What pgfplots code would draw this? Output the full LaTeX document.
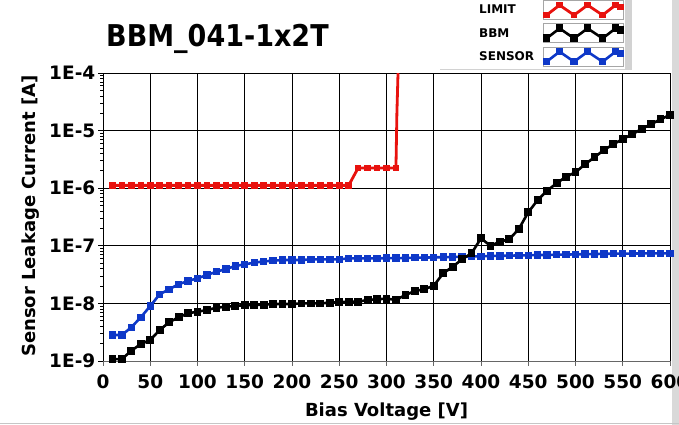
\documentclass[border=0pt]{standalone}
\usepackage{pgfplots}
\pgfplotsset{compat=1.18}
\usepackage{fontspec}
\setmainfont{DejaVu Sans}
\newfontfamily\titlefont{DejaVu Sans Condensed Bold}
\definecolor{limred}{RGB}{232,18,14}
\definecolor{senblue}{RGB}{14,56,200}
\definecolor{bbmblack}{RGB}{0,0,0}
\begin{document}
\begin{tikzpicture}
\path[use as bounding box] (0pt,0pt) rectangle (679pt,425pt);
\fill[gray!30] (672pt,0pt) rectangle (679pt,425pt);
\fill[gray!35] (625pt,355pt) rectangle (632pt,425pt);
\draw[gray!35, line width=1pt] (440pt,355pt) -- (632pt,355pt);
\draw[gray!45, line width=1.2pt] (0pt,1.5pt) -- (679pt,1.5pt);
\begin{axis}[
  at={(103pt,64pt)}, anchor=south west,
  scale only axis, width=567pt, height=288pt,
  xmin=0, xmax=600, ymin=1e-9, ymax=1e-4, ymode=log,
  xtick={0,50,100,150,200,250,300,350,400,450,500,550,600},
  xticklabels={0,50,100,150,200,250,300,350,400,450,500,550,600},
  ytick={1e-9,1e-8,1e-7,1e-6,1e-5,1e-4},
  yticklabels={1E-9,1E-8,1E-7,1E-6,1E-5,1E-4},
  axis lines=left, axis line style={-},
  x axis line style={gray!80!black, line width=1pt},
  y axis line style={black, line width=1pt},
  xtick style={gray!80!black, line width=0.8pt},
  ytick style={black, line width=0.8pt},
  tick align=outside, major tick length=5pt,
  grid=major, major grid style={black, line width=1pt},
  tick label style={font=\fontsize{18.5}{21}\selectfont\bfseries},
  yticklabel style={inner sep=1pt, xshift=-1.5pt},
  xticklabel style={inner sep=2pt, yshift=-6.5pt},
  xlabel={Bias Voltage [V]},
  ylabel={Sensor Leakage Current [A]},
  label style={font=\fontsize{18}{21}\selectfont\bfseries},
  xlabel style={at={(axis description cs:0.5,-0.193)}, anchor=base},
  ylabel style={at={(axis description cs:-0.127,0.503)}, anchor=center},
  clip=true,
  reverse legend,
  legend plot pos=right,
  legend cell align=left,
  legend style={at={(axis description cs:0.6596,1.2535)}, anchor=north west,
    draw=none, fill=none, inner sep=0pt, row sep=3.5pt, column sep=7pt,
    font=\fontsize{12}{14}\selectfont\bfseries},
  legend image code/.code={%
    \draw[gray!70, line width=0.8pt, fill=white] (0pt,-9.5pt) rectangle (80pt,9.5pt);
    \draw[#1] plot coordinates {(3pt,-5pt) (16pt,5pt) (30.5pt,-5pt) (44pt,5pt) (59pt,-5pt) (72pt,5pt) (77pt,3pt)};
  },
]
\addplot[senblue, line width=2.6pt, mark=square*, mark size=3.2pt, mark options={line width=0pt}] coordinates {
(10,2.83e-9) (20,2.83e-9) (30,3.85e-9) (40,5.74e-9) (50,9.0e-9) (60,1.44e-8) (70,1.76e-8) (80,2.15e-8) (90,2.45e-8) (100,2.73e-8)
(110,3.11e-8) (120,3.55e-8) (130,3.95e-8) (140,4.46e-8) (150,4.77e-8) (160,5.09e-8) (170,5.37e-8) (180,5.51e-8) (190,5.66e-8) (200,5.66e-8)
(210,5.66e-8) (220,5.82e-8) (230,5.82e-8) (240,5.82e-8) (250,5.82e-8) (260,6.05e-8) (270,6.05e-8) (280,6.05e-8) (290,6.05e-8) (300,6.1e-8)
(310,6.1e-8) (320,6.15e-8) (330,6.2e-8) (340,6.25e-8) (350,6.3e-8) (360,6.35e-8) (370,6.4e-8) (380,6.45e-8) (390,6.5e-8) (400,6.6e-8)
(410,6.65e-8) (420,6.7e-8) (430,6.75e-8) (440,6.8e-8) (450,6.85e-8) (460,6.9e-8) (470,6.95e-8) (480,7.0e-8) (490,7.05e-8) (500,7.1e-8)
(510,7.15e-8) (520,7.2e-8) (530,7.25e-8) (540,7.3e-8) (550,7.3e-8) (560,7.35e-8) (570,7.35e-8) (580,7.4e-8) (590,7.4e-8) (600,7.4e-8)
};
\addlegendentry{SENSOR}
\addplot[bbmblack, line width=2.6pt, mark=square*, mark size=3.4pt, mark options={line width=0pt}] coordinates {
(10,1.08e-9) (20,1.08e-9) (30,1.51e-9) (40,1.97e-9) (50,2.32e-9) (60,3.45e-9) (70,4.7e-9) (80,5.74e-9) (90,6.73e-9) (100,7.18e-9)
(110,7.67e-9) (120,8.41e-9) (130,8.77e-9) (140,9.0e-9) (150,9.38e-9) (160,9.38e-9) (170,9.5e-9) (180,9.77e-9) (190,9.77e-9) (200,9.77e-9)
(210,1.0e-8) (220,1.0e-8) (230,1.0e-8) (240,1.03e-8) (250,1.05e-8) (260,1.07e-8) (270,1.07e-8) (280,1.15e-8) (290,1.18e-8) (300,1.21e-8)
(310,1.15e-8) (320,1.4e-8) (330,1.64e-8) (340,1.76e-8) (350,2.03e-8) (360,3.33e-8) (370,4.34e-8) (380,5.83e-8) (390,7.41e-8) (400,1.35e-7)
(410,1.0e-7) (420,1.18e-7) (430,1.3e-7) (440,1.96e-7) (450,3.82e-7) (460,6.24e-7) (470,9.06e-7) (480,1.22e-6) (490,1.58e-6) (500,1.89e-6)
(510,2.6e-6) (520,3.44e-6) (530,4.6e-6) (540,5.78e-6) (550,7.15e-6) (560,8.6e-6) (570,1.07e-5) (580,1.29e-5) (590,1.57e-5) (600,1.87e-5)
};
\addlegendentry{BBM}
\addplot[limred, line width=2.8pt, forget plot] coordinates {(310,2.25e-6) (311,2e-5) (313,3e-4)};
\addplot[limred, line width=2.8pt, mark=square*, mark size=2.8pt, mark options={line width=0pt}] coordinates {
(10,1.12e-6) (20,1.12e-6) (30,1.12e-6) (40,1.12e-6) (50,1.12e-6) (60,1.12e-6) (70,1.12e-6) (80,1.12e-6) (90,1.12e-6) (100,1.12e-6)
(110,1.12e-6) (120,1.12e-6) (130,1.12e-6) (140,1.12e-6) (150,1.12e-6) (160,1.12e-6) (170,1.12e-6) (180,1.12e-6) (190,1.12e-6) (200,1.12e-6)
(210,1.12e-6) (220,1.12e-6) (230,1.12e-6) (240,1.12e-6) (250,1.12e-6) (260,1.12e-6)
(270,2.25e-6) (280,2.25e-6) (290,2.25e-6) (300,2.25e-6) (310,2.25e-6)
};
\addlegendentry{LIMIT}
\end{axis}
\node[anchor=base west, inner sep=0pt, font=\titlefont\fontsize{30}{36}\selectfont] at (106pt,378pt) {BBM\_041-1x2T};
\end{tikzpicture}
\end{document}
